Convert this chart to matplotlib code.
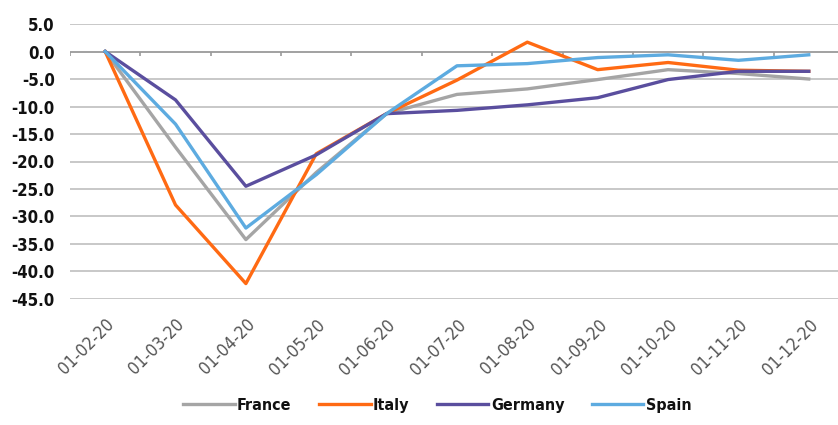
import matplotlib
matplotlib.use("Agg")
import matplotlib.pyplot as plt
import numpy as np

dates = ["01-02-20", "01-03-20", "01-04-20", "01-05-20", "01-06-20", "01-07-20",
         "01-08-20", "01-09-20", "01-10-20", "01-11-20", "01-12-20"]
france = [0.0, -17.4, -34.2, -22.0, -11.3, -7.8, -6.8, -5.1, -3.3, -4.0, -5.0]
italy = [0.0, -27.9, -42.2, -18.6, -11.3, -5.2, 1.7, -3.3, -2.0, -3.4, -3.6]
germany = [0.0, -8.8, -24.5, -18.8, -11.3, -10.7, -9.7, -8.4, -5.1, -3.6, -3.6]
spain = [0.0, -13.2, -32.1, -22.4, -11.3, -2.6, -2.2, -1.1, -0.6, -1.6, -0.6]
yticks = [5.0, 0.0, -5.0, -10.0, -15.0, -20.0, -25.0, -30.0, -35.0, -40.0, -45.0]

plt.rcParams['font.family'] = ['DejaVu Sans']
plt.rcParams['font.stretch'] = 'condensed'

fig = plt.figure(figsize=(8.38, 4.25), dpi=100)
ax = fig.add_axes([0.0835, 0.2965, 0.9236, 0.647])

x = np.arange(len(dates))
series = [("France", france, "#A5A5A5"), ("Italy", italy, "#FF6A13"),
          ("Germany", germany, "#5A4E9E"), ("Spain", spain, "#5DABE0")]
for name, vals, col in series:
    ax.plot(x, vals, color=col, lw=2.4, label=name, zorder=3)

ax.set_xlim(-0.5, len(dates) - 0.5)
ax.set_ylim(-45, 5)
ax.set_yticks(yticks)
ax.set_yticklabels([f"{v:.1f}" for v in yticks], fontsize=12, fontweight='bold',
                   fontstretch='condensed', color="#111111")
for v in yticks:
    ax.axhline(v, color="#9A9A9A" if v == 0 else "#C4C4C4", lw=1.3, zorder=1)
ax.vlines(np.arange(-0.5, len(dates)), 0, -0.9, color="#9A9A9A", lw=1.2, zorder=1)

for s in ax.spines.values():
    s.set_visible(False)
ax.tick_params(axis='both', length=0)
ax.tick_params(axis='y', pad=11)
ax.set_xticks(x)
ax.set_xticklabels(dates, rotation=45, ha='right', rotation_mode='anchor',
                   fontsize=12.5, color="#555555", fontstretch='condensed')
ax.tick_params(axis='x', pad=12)

leg = fig.legend(loc='lower center', bbox_to_anchor=(0.522, -0.005), ncol=4,
                 frameon=False, handlelength=3.2, columnspacing=1.75,
                 handletextpad=0.15,
                 prop={'size': 11.5, 'weight': 'bold', 'stretch': 'condensed'})
for t in leg.get_texts():
    t.set_color("#111111")

fig.savefig("out.png", dpi=100)
